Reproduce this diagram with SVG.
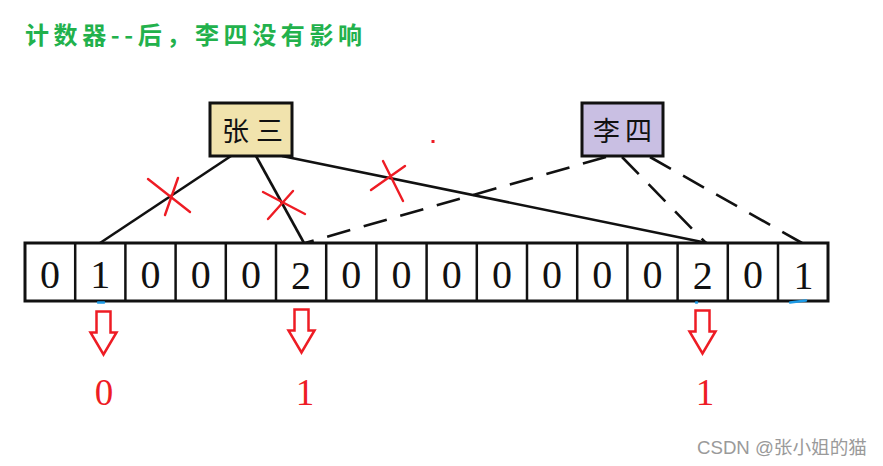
<svg xmlns="http://www.w3.org/2000/svg" width="883" height="466" viewBox="0 0 883 466">
<style>
.title{font-family:"Noto Sans CJK SC","Noto Sans",sans-serif;font-size:24px;font-weight:bold;fill:#22b14c}
.box{stroke:#111;stroke-width:3}
.lbl{font-family:"Noto Sans CJK SC","Noto Sans",sans-serif;font-size:27px;fill:#111}
.cell{fill:#fff;stroke:#111;stroke-width:3}
.div{stroke:#111;stroke-width:2.5}
.dig{font-family:"Liberation Serif","Times New Roman",serif;font-size:40px;fill:#111;text-anchor:middle}
.solid{stroke:#111;stroke-width:2.6;fill:none}
.dash{stroke:#111;stroke-width:2.6;fill:none;stroke-dasharray:24 14}
.x{stroke:#ee1c24;stroke-width:2.4;stroke-linecap:round}
.arr{fill:none;stroke:#ee1c24;stroke-width:2.5;stroke-linejoin:miter}
.res{font-family:"Liberation Serif","Times New Roman",serif;font-size:37px;fill:#ee1c24;text-anchor:middle}
.wm{font-family:"Liberation Sans","Noto Sans CJK SC",sans-serif;font-size:18px;fill:#9a9a9a}
.blue{stroke:#1e9be6;stroke-width:2.5;stroke-linecap:round}
</style>
<defs>
<path id="downArrow" d="M-7,0 H7 V21 H13 L0,43 L-13,21 H-7 Z"/>
</defs>
<text class="title" x="25" y="44" textLength="337" lengthAdjust="spacing">计数器--后，李四没有影响</text>

<g id="connectors">
<line class="solid" x1="231" y1="156" x2="100" y2="243"/>
<line class="solid" x1="256" y1="156" x2="304" y2="243"/>
<line class="solid" x1="282" y1="156" x2="707" y2="243"/>
<line class="dash" x1="606" y1="157" x2="305" y2="243"/>
<line class="dash" x1="622" y1="157" x2="706" y2="243"/>
<line class="dash" x1="650" y1="157" x2="802" y2="243"/>
</g>

<g id="zhangsan">
<rect class="box" x="210" y="103" width="82" height="53" fill="#f1e3ad"/>
<text class="lbl" x="222" y="141">张</text>
<text class="lbl" x="256" y="141">三</text>
</g>
<g id="lisi">
<rect class="box" x="582" y="103" width="81" height="53" fill="#c9bfe3"/>
<text class="lbl" x="593" y="141">李</text>
<text class="lbl" x="625" y="141">四</text>
</g>

<g id="array">
<rect class="cell" x="25" y="243" width="803" height="58"/>
<g class="div">
<line x1="75.2" y1="243" x2="75.2" y2="301"/>
<line x1="125.4" y1="243" x2="125.4" y2="301"/>
<line x1="175.6" y1="243" x2="175.6" y2="301"/>
<line x1="225.8" y1="243" x2="225.8" y2="301"/>
<line x1="276" y1="243" x2="276" y2="301"/>
<line x1="326.2" y1="243" x2="326.2" y2="301"/>
<line x1="376.4" y1="243" x2="376.4" y2="301"/>
<line x1="426.6" y1="243" x2="426.6" y2="301"/>
<line x1="476.8" y1="243" x2="476.8" y2="301"/>
<line x1="527" y1="243" x2="527" y2="301"/>
<line x1="577.2" y1="243" x2="577.2" y2="301"/>
<line x1="627.4" y1="243" x2="627.4" y2="301"/>
<line x1="677.6" y1="243" x2="677.6" y2="301"/>
<line x1="727.8" y1="243" x2="727.8" y2="301"/>
<line x1="778" y1="243" x2="778" y2="301"/>
</g>
<text class="dig" x="50" y="288">0</text>
<text class="dig" x="100.3" y="288">1</text>
<text class="dig" x="150.5" y="288">0</text>
<text class="dig" x="200.7" y="288">0</text>
<text class="dig" x="250.9" y="288">0</text>
<text class="dig" x="301.1" y="289">2</text>
<text class="dig" x="351.3" y="288">0</text>
<text class="dig" x="401.5" y="288">0</text>
<text class="dig" x="451.7" y="288">0</text>
<text class="dig" x="501.9" y="288">0</text>
<text class="dig" x="552.1" y="288">0</text>
<text class="dig" x="602.3" y="288">0</text>
<text class="dig" x="652.5" y="288">0</text>
<text class="dig" x="702.7" y="289">2</text>
<text class="dig" x="752.9" y="288">0</text>
<text class="dig" x="803.5" y="289">1</text>
</g>

<g id="blue-marks">
<line class="blue" x1="98" y1="302.5" x2="104" y2="302.5"/>
<line class="blue" x1="696" y1="302.5" x2="697" y2="302.5"/>
<line class="blue" x1="790" y1="302.5" x2="806" y2="300.5"/>
</g>

<g id="crosses">
<line class="x" x1="148" y1="179" x2="190" y2="212"/>
<line class="x" x1="178" y1="178" x2="165" y2="215"/>
<line class="x" x1="263" y1="192" x2="305" y2="214"/>
<line class="x" x1="293" y1="191" x2="268" y2="219"/>
<line class="x" x1="371" y1="190" x2="405" y2="166"/>
<line class="x" x1="383" y1="161" x2="403" y2="201"/>
</g>
<rect x="431.5" y="140" width="3" height="3" fill="#ee1c24"/>

<g id="arrows">
<use href="#downArrow" class="arr" x="103.5" y="311.5"/>
<use href="#downArrow" class="arr" x="301.5" y="311.5" transform="translate(0,-2)"/>
<use href="#downArrow" class="arr" x="702.5" y="311.5" transform="translate(0,-1)"/>
</g>

<g id="results">
<text class="res" x="104" y="405">0</text>
<text class="res" x="305" y="405">1</text>
<text class="res" x="705" y="405">1</text>
</g>

<text class="wm" x="697" y="454" textLength="170" lengthAdjust="spacingAndGlyphs">CSDN @张小姐的猫</text>
</svg>
